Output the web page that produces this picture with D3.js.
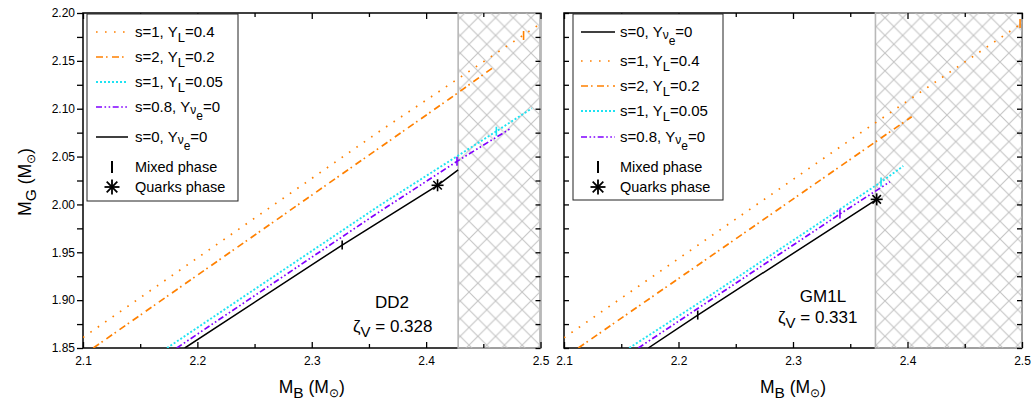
<!DOCTYPE html>
<html><head><meta charset="utf-8">
<script src="https://cdn.jsdelivr.net/npm/d3@7"></script>
<style>body{margin:0;background:#fff} text{font-family:"Liberation Sans",Arial,sans-serif;fill:#000}</style>
</head><body><svg id="c" width="1034" height="403"></svg>
<script>
// ---------- tick labels ----------
const xTicks = [2.1, 2.2, 2.3, 2.4, 2.5];
const xMinorTicks = [2.15, 2.25, 2.35, 2.45];
const yTicks = [1.85, 1.90, 1.95, 2.00, 2.05, 2.10, 2.15, 2.20];
const yMinorTicks = [1.875, 1.925, 1.975, 2.025, 2.075, 2.125, 2.175];

// ---------- DD2 panel ----------
const dd2_s1YL04_MB  = [2.100, 2.360, 2.4983];
const dd2_s1YL04_MG  = [1.861, 2.077, 2.1875];
const dd2_s2YL02_MB  = [2.109, 2.4211, 2.4576];
const dd2_s2YL02_MG  = [1.850, 2.1109, 2.1422];
const dd2_s1YL005_MB = [2.1735, 2.360, 2.4614, 2.4925];
const dd2_s1YL005_MG = [1.850, 1.9994, 2.0764, 2.1004];
const dd2_s08_MB     = [2.182, 2.360, 2.427, 2.474];
const dd2_s08_MG     = [1.850, 1.993, 2.045, 2.0795];
const dd2_s0_MB      = [2.189, 2.3266, 2.410, 2.428];
const dd2_s0_MG      = [1.850, 1.9576, 2.020, 2.036];
const dd2_mixedMB    = [2.3266, 2.427, 2.4614, 2.4852];
const dd2_mixedMG    = [1.9576, 2.045, 2.0764, 2.1766];
const dd2_mixedSer   = ["s0", "s08", "s1YL005", "s1YL04"];
const dd2_quarkMB    = [2.410];
const dd2_quarkMG    = [2.020];
const dd2_unstableFrom = 2.428;

// ---------- GM1L panel ----------
const gm_s1YL04_MB  = [2.100, 2.3562, 2.4983];
const gm_s1YL04_MG  = [1.8607, 2.0725, 2.188];
const gm_s2YL02_MB  = [2.1125, 2.2086, 2.4037];
const gm_s2YL02_MG  = [1.850, 1.9297, 2.0916];
const gm_s1YL005_MB = [2.157, 2.2173, 2.3769, 2.3963];
const gm_s1YL005_MG = [1.850, 1.8967, 2.0234, 2.0401];
const gm_s08_MB     = [2.1649, 2.341, 2.3847];
const gm_s08_MG     = [1.850, 1.990, 2.0237];
const gm_s0_MB      = [2.1736, 2.2168, 2.3731];
const gm_s0_MG      = [1.850, 1.8844, 2.0053];
const gm_mixedMB    = [2.2168, 2.341, 2.3769, 2.4983];
const gm_mixedMG    = [1.8844, 1.990, 2.0234, 2.189];
const gm_mixedSer   = ["s0", "s08", "s1YL005", "s1YL04"];
const gm_quarkMB    = [2.3731];
const gm_quarkMG    = [2.0053];
const gm_unstableFrom = 2.372;

// ---------- styles ----------
const styles = {
  s1YL04:  {color: "#FF8000", dash: "1.6,7.4", w: 1.7, label: [{t:"s=1, Y"},{t:"L",sub:1},{t:"=0.4"}]},
  s2YL02:  {color: "#FF8000", dash: "7,3,1.6,4.4", w: 1.7, label: [{t:"s=2, Y"},{t:"L",sub:1},{t:"=0.2"}]},
  s1YL005: {color: "#1EE3F2", dash: "2,2", w: 1.9, label: [{t:"s=1, Y"},{t:"L",sub:1},{t:"=0.05"}]},
  s08:     {color: "#8000FF", dash: "6,2.5,1.6,2.5,1.6,2.5", w: 1.7, label: [{t:"s=0.8, Y"},{t:"ν",sub:2},{t:"e",sub:3},{t:"=0"}]},
  s0:      {color: "#000000", dash: null, w: 1.5, label: [{t:"s=0, Y"},{t:"ν",sub:2},{t:"e",sub:3},{t:"=0"}]}
};

const svg = d3.select("#c");
const defs = svg.append("defs");
const hs = 17.7;
const pat = defs.append("pattern").attr("id","hatch").attr("patternUnits","userSpaceOnUse")
  .attr("width",hs).attr("height",hs);
pat.append("path").attr("d",`M0,0L${hs},${hs}M${hs},0L0,${hs}M${-hs/2},${hs/2}L${hs/2},${-hs/2}`)
  .attr("stroke","#c4c4c4").attr("stroke-width",1.1).attr("fill","none");

function richText(g, x, y, parts, size, anchor) {
  const t = g.append("text").attr("x", x).attr("y", y).attr("font-size", size)
    .attr("text-anchor", anchor || "start");
  let level = 0;
  const off = {0:0, 1:5, 2:2, 3:8, 4:4};
  const fs = {0:size, 1:size-2, 2:size-3, 3:size-3, 4:size-6};
  parts.forEach(p => {
    const nl = p.sub || 0;
    const dy = off[nl] - off[level];
    t.append("tspan").attr("dy", dy).attr("font-size", fs[nl]).text(p.t);
    level = nl;
  });
  return t;
}

function asterisk(g, cx, cy, r, w) {
  [0, 45, 90, 135].forEach(d => {
    const rad = d * Math.PI / 180;
    g.append("line").attr("x1", cx - r*Math.cos(rad)).attr("y1", cy - r*Math.sin(rad))
      .attr("x2", cx + r*Math.cos(rad)).attr("y2", cy + r*Math.sin(rad))
      .attr("stroke","#000").attr("stroke-width", w);
  });
}

function panel(cfg) {
  const x = d3.scaleLinear().domain([2.1, 2.5]).range([cfg.x0, cfg.x1]);
  const y = d3.scaleLinear().domain([1.85, 2.2]).range([348, 13]);
  const g = svg.append("g");
  const cid = "clip" + cfg.id;
  defs.append("clipPath").attr("id", cid).append("rect")
    .attr("x", cfg.x0).attr("y", 13).attr("width", cfg.x1 - cfg.x0).attr("height", 335);

  g.append("rect").attr("x", cfg.x0).attr("y", 13).attr("width", cfg.x1 - cfg.x0).attr("height", 335)
    .attr("fill","none").attr("stroke","#000").attr("stroke-width",1.5);
  g.append("rect").attr("x", x(cfg.hatch)).attr("y", 13).attr("width", cfg.x1 - x(cfg.hatch)).attr("height", 335)
    .attr("fill","url(#hatch)").attr("stroke","#b8b8b8").attr("stroke-width",1.6);

  const fmtX = d3.format(".1f"), fmtY = d3.format(".2f");
  g.append("g").attr("transform",`translate(0,348)`)
    .call(d3.axisBottom(x).tickValues(xTicks).tickSize(-6).tickPadding(8).tickFormat(fmtX));
  g.append("g").attr("transform",`translate(0,348)`)
    .call(d3.axisBottom(x).tickValues(xMinorTicks).tickSize(-4).tickFormat(""));
  g.append("g").attr("transform",`translate(0,13)`)
    .call(d3.axisTop(x).tickValues(xTicks).tickSize(-6).tickFormat(""));
  g.append("g").attr("transform",`translate(0,13)`)
    .call(d3.axisTop(x).tickValues(xMinorTicks).tickSize(-4).tickFormat(""));
  if (cfg.yLabels) {
    g.append("g").attr("transform",`translate(${cfg.x0},0)`)
      .call(d3.axisLeft(y).tickValues(yTicks).tickSize(6).tickPadding(2).tickFormat(fmtY));
    g.append("g").attr("transform",`translate(${cfg.x0},0)`)
      .call(d3.axisLeft(y).tickValues(yMinorTicks).tickSize(6).tickFormat(""));
  } else {
    g.append("g").attr("transform",`translate(${cfg.x0},0)`)
      .call(d3.axisLeft(y).tickValues(yTicks).tickSize(-5).tickFormat(""));
    g.append("g").attr("transform",`translate(${cfg.x0},0)`)
      .call(d3.axisLeft(y).tickValues(yMinorTicks).tickSize(-5).tickFormat(""));
  }
  g.append("g").attr("transform",`translate(${cfg.x1},0)`)
    .call(d3.axisRight(y).tickValues(yTicks).tickSize(-5).tickFormat(""));
  g.append("g").attr("transform",`translate(${cfg.x1},0)`)
    .call(d3.axisRight(y).tickValues(yMinorTicks).tickSize(-5).tickFormat(""));
  g.selectAll(".domain").remove();
  g.selectAll(".tick line").attr("stroke","#000").attr("stroke-width",1.3);
  g.selectAll(".tick text").attr("font-size",12).attr("font-family","Liberation Sans, Arial, sans-serif");

  const line = d3.line().x(d => x(d[0])).y(d => y(d[1]));
  const dg = g.append("g").attr("clip-path", `url(#${cid})`);
  cfg.series.forEach(s => {
    const st = styles[s.key];
    const pts = s.mb.map((v, i) => [v, s.mg[i]]);
    dg.append("path").attr("d", line(pts)).attr("fill","none").attr("stroke", st.color)
      .attr("stroke-width", st.w).attr("stroke-dasharray", st.dash);
  });
  cfg.mixedMB.forEach((v, i) => {
    const st = styles[cfg.mixedSer[i]];
    dg.append("line").attr("x1", x(v)).attr("x2", x(v))
      .attr("y1", y(cfg.mixedMG[i]) - 4.5).attr("y2", y(cfg.mixedMG[i]) + 4.5)
      .attr("stroke", st.color).attr("stroke-width", 1.6);
  });
  cfg.quarkMB.forEach((v, i) => asterisk(g, x(v), y(cfg.quarkMG[i]), 6, 1.6));

  g.append("text").attr("x", cfg.ann[0]).attr("y", cfg.ann[1]).attr("text-anchor","middle")
    .attr("font-size",17).text(cfg.name);
  richText(g, cfg.ann[2], cfg.ann[3], [{t:"ζ"},{t:"V",sub:1},{t:" = " + cfg.zeta}], 17);

  richText(g, (cfg.x0 + cfg.x1)/2, 393, [{t:"M"},{t:"B",sub:1},{t:" (M"},{t:"⊙",sub:4},{t:")"}], 17.5, "middle");

  const L = cfg.legend;
  const lg = g.append("g");
  lg.append("rect").attr("x", L.x).attr("y", 14).attr("width", L.w).attr("height", L.h)
    .attr("fill","#fff").attr("stroke","#222").attr("stroke-width",1);
  L.order.forEach((k, i) => {
    const st = styles[k];
    lg.append("line").attr("x1", L.lx0).attr("x2", L.lx1).attr("y1", L.ly[i]).attr("y2", L.ly[i])
      .attr("stroke", st.color).attr("stroke-width", st.w).attr("stroke-dasharray", st.dash);
    richText(lg, L.tx, L.ty[i], st.label, 15);
  });
  const mx = (L.lx0 + L.lx1) / 2;
  lg.append("line").attr("x1", mx).attr("x2", mx).attr("y1", 161).attr("y2", 173)
    .attr("stroke","#000").attr("stroke-width",2);
  richText(lg, L.tx, 172, [{t:"Mixed phase"}], 14.5);
  asterisk(lg, mx, 187, 7.5, 1.8);
  richText(lg, L.tx, 192, [{t:"Quarks phase"}], 14.5);
}

panel({
  id: "dd2", name: "DD2", zeta: "0.328", x0: 83, x1: 540.5, hatch: dd2_unstableFrom, yLabels: true,
  series: [
    {key:"s1YL04", mb: dd2_s1YL04_MB, mg: dd2_s1YL04_MG},
    {key:"s2YL02", mb: dd2_s2YL02_MB, mg: dd2_s2YL02_MG},
    {key:"s1YL005", mb: dd2_s1YL005_MB, mg: dd2_s1YL005_MG},
    {key:"s08", mb: dd2_s08_MB, mg: dd2_s08_MG},
    {key:"s0", mb: dd2_s0_MB, mg: dd2_s0_MG}
  ],
  mixedMB: dd2_mixedMB, mixedMG: dd2_mixedMG, mixedSer: dd2_mixedSer,
  quarkMB: dd2_quarkMB, quarkMG: dd2_quarkMG,
  ann: [392, 308, 353, 332],
  legend: {x: 87, w: 151, h: 187, lx0: 96, lx1: 128, tx: 135,
    order: ["s1YL04","s2YL02","s1YL005","s08","s0"],
    ly: [32, 57, 82, 107, 137], ty: [37, 62, 87, 112, 142]}
});

panel({
  id: "gm", name: "GM1L", zeta: "0.331", x0: 564, x1: 1022, hatch: gm_unstableFrom, yLabels: false,
  series: [
    {key:"s1YL04", mb: gm_s1YL04_MB, mg: gm_s1YL04_MG},
    {key:"s2YL02", mb: gm_s2YL02_MB, mg: gm_s2YL02_MG},
    {key:"s1YL005", mb: gm_s1YL005_MB, mg: gm_s1YL005_MG},
    {key:"s08", mb: gm_s08_MB, mg: gm_s08_MG},
    {key:"s0", mb: gm_s0_MB, mg: gm_s0_MG}
  ],
  mixedMB: gm_mixedMB, mixedMG: gm_mixedMG, mixedSer: gm_mixedSer,
  quarkMB: gm_quarkMB, quarkMG: gm_quarkMG,
  ann: [823, 302, 778, 323],
  legend: {x: 573, w: 150, h: 186, lx0: 581, lx1: 615, tx: 620,
    order: ["s0","s1YL04","s2YL02","s1YL005","s08"],
    ly: [32, 61, 86, 111, 137], ty: [37, 66, 91, 116, 142]}
});

richText(svg.append("g").attr("transform","translate(31,182) rotate(-90)"), 0, 0,
  [{t:"M"},{t:"G",sub:1},{t:" (M"},{t:"⊙",sub:4},{t:")"}], 17.5, "middle");
</script></body></html>
